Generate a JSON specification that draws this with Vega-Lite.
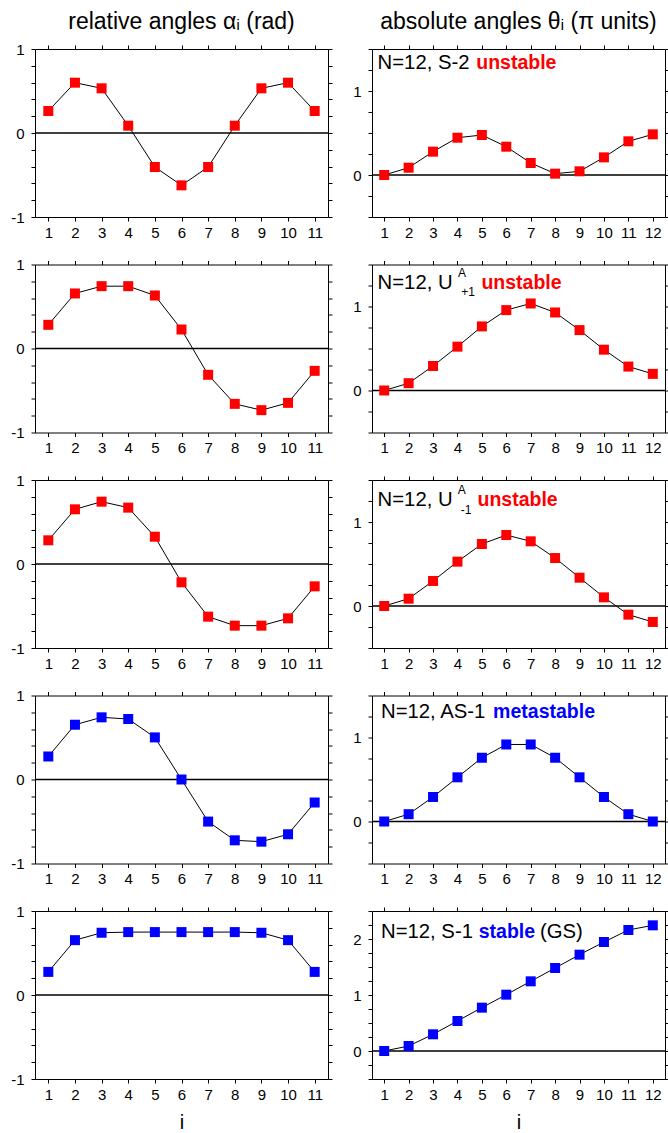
{
  "$schema": "https://vega.github.io/schema/vega-lite/v6.json",
  "padding": {"left": 10, "top": 10, "right": 0, "bottom": 0},
  "background": "white",
  "datasets": {
    "alpha_S2": [{"i":1,"alpha":0.262},{"i":2,"alpha":0.599},{"i":3,"alpha":0.532},{"i":4,"alpha":0.087},{"i":5,"alpha":-0.405},{"i":6,"alpha":-0.623},{"i":7,"alpha":-0.405},{"i":8,"alpha":0.087},{"i":9,"alpha":0.532},{"i":10,"alpha":0.599},{"i":11,"alpha":0.262}],
    "theta_S2": [{"i":1,"theta":0},{"i":2,"theta":0.087},{"i":3,"theta":0.278},{"i":4,"theta":0.444},{"i":5,"theta":0.476},{"i":6,"theta":0.337},{"i":7,"theta":0.143},{"i":8,"theta":0.016},{"i":9,"theta":0.044},{"i":10,"theta":0.21},{"i":11,"theta":0.401},{"i":12,"theta":0.484}],
    "alpha_Up1": [{"i":1,"alpha":0.282},{"i":2,"alpha":0.655},{"i":3,"alpha":0.742},{"i":4,"alpha":0.742},{"i":5,"alpha":0.631},{"i":6,"alpha":0.226},{"i":7,"alpha":-0.313},{"i":8,"alpha":-0.659},{"i":9,"alpha":-0.734},{"i":10,"alpha":-0.647},{"i":11,"alpha":-0.266}],
    "theta_Up1": [{"i":1,"theta":0},{"i":2,"theta":0.087},{"i":3,"theta":0.292},{"i":4,"theta":0.522},{"i":5,"theta":0.763},{"i":6,"theta":0.957},{"i":7,"theta":1.036},{"i":8,"theta":0.929},{"i":9,"theta":0.719},{"i":10,"theta":0.486},{"i":11,"theta":0.285},{"i":12,"theta":0.198}],
    "alpha_Um1": [{"i":1,"alpha":0.282},{"i":2,"alpha":0.651},{"i":3,"alpha":0.742},{"i":4,"alpha":0.671},{"i":5,"alpha":0.325},{"i":6,"alpha":-0.218},{"i":7,"alpha":-0.627},{"i":8,"alpha":-0.734},{"i":9,"alpha":-0.734},{"i":10,"alpha":-0.647},{"i":11,"alpha":-0.266}],
    "theta_Um1": [{"i":1,"theta":0},{"i":2,"theta":0.087},{"i":3,"theta":0.298},{"i":4,"theta":0.528},{"i":5,"theta":0.738},{"i":6,"theta":0.845},{"i":7,"theta":0.77},{"i":8,"theta":0.571},{"i":9,"theta":0.337},{"i":10,"theta":0.103},{"i":11,"theta":-0.103},{"i":12,"theta":-0.19}],
    "alpha_AS1": [{"i":1,"alpha":0.274},{"i":2,"alpha":0.652},{"i":3,"alpha":0.74},{"i":4,"alpha":0.72},{"i":5,"alpha":0.501},{"i":6,"alpha":0},{"i":7,"alpha":-0.501},{"i":8,"alpha":-0.724},{"i":9,"alpha":-0.74},{"i":10,"alpha":-0.652},{"i":11,"alpha":-0.274}],
    "theta_AS1": [{"i":1,"theta":0},{"i":2,"theta":0.087},{"i":3,"theta":0.292},{"i":4,"theta":0.526},{"i":5,"theta":0.759},{"i":6,"theta":0.917},{"i":7,"theta":0.917},{"i":8,"theta":0.759},{"i":9,"theta":0.526},{"i":10,"theta":0.292},{"i":11,"theta":0.087},{"i":12,"theta":0}],
    "alpha_S1": [{"i":1,"alpha":0.275},{"i":2,"alpha":0.653},{"i":3,"alpha":0.741},{"i":4,"alpha":0.749},{"i":5,"alpha":0.749},{"i":6,"alpha":0.749},{"i":7,"alpha":0.749},{"i":8,"alpha":0.749},{"i":9,"alpha":0.741},{"i":10,"alpha":0.653},{"i":11,"alpha":0.275}],
    "theta_S1": [{"i":1,"theta":0},{"i":2,"theta":0.089},{"i":3,"theta":0.298},{"i":4,"theta":0.536},{"i":5,"theta":0.774},{"i":6,"theta":1.006},{"i":7,"theta":1.244},{"i":8,"theta":1.482},{"i":9,"theta":1.72},{"i":10,"theta":1.946},{"i":11,"theta":2.161},{"i":12,"theta":2.244}],
    "one": [{}]
  },
  "columns": 2,
  "spacing": {"row": 47.5, "column": 44},
  "bounds": "flush",
  "align": "all",
  "concat": [
    {
      "width": 293, "height": 168,
      "title": {"text": "relative angles αᵢ (rad)"},
      "layer": [
        {"data": {"name": "one"}, "mark": "rule", "encoding": {"y": {"datum": 0, "type": "quantitative", "axis": null}}},
        {"data": {"name": "alpha_S2"}, "mark": "line", "encoding": {
          "x": {"field": "i", "type": "quantitative", "scale": {"domain": [0.5, 11.5], "nice": false, "zero": false}, "axis": {"orient": "bottom", "values": [1,2,3,4,5,6,7,8,9,10,11], "title": null}},
          "y": {"field": "alpha", "type": "quantitative", "scale": {"domain": [-1, 1], "nice": false}, "axis": {"orient": "left", "values": [-1,-0.8,-0.6,-0.4,-0.2,0,0.2,0.4,0.6,0.8,1], "labelExpr": "datum.value == 0 || abs(datum.value) == 1 ? '' + datum.value : ''", "title": null}}}},
        {"data": {"name": "alpha_S2"}, "mark": {"type": "square", "color": "#ff0000"}, "encoding": {
          "x": {"field": "i", "type": "quantitative", "axis": {"orient": "top", "values": [1,2,3,4,5,6,7,8,9,10,11], "labels": false, "title": null}},
          "y": {"field": "alpha", "type": "quantitative", "axis": {"orient": "right", "values": [-1,-0.8,-0.6,-0.4,-0.2,0,0.2,0.4,0.6,0.8,1], "labels": false, "title": null}}}}
      ],
      "resolve": {"axis": {"x": "independent", "y": "independent"}}
    },
    {
      "width": 293, "height": 168,
      "title": {"text": "absolute angles θᵢ (π units)"},
      "layer": [
        {"data": {"name": "one"}, "mark": "rule", "encoding": {"y": {"datum": 0, "type": "quantitative", "axis": null}}},
        {"data": {"name": "theta_S2"}, "mark": "line", "encoding": {
          "x": {"field": "i", "type": "quantitative", "scale": {"domain": [0.5, 12.5], "nice": false, "zero": false}, "axis": {"orient": "bottom", "values": [1,2,3,4,5,6,7,8,9,10,11,12], "title": null}},
          "y": {"field": "theta", "type": "quantitative", "scale": {"domain": [-0.5, 1.5], "nice": false}, "axis": {"orient": "left", "values": [-0.5,-0.25,0,0.25,0.5,0.75,1,1.25,1.5], "labelExpr": "datum.value % 1 == 0 ? '' + datum.value : ''", "title": null}}}},
        {"data": {"name": "theta_S2"}, "mark": {"type": "square", "color": "#ff0000"}, "encoding": {
          "x": {"field": "i", "type": "quantitative", "axis": {"orient": "top", "values": [1,2,3,4,5,6,7,8,9,10,11,12], "labels": false, "title": null}},
          "y": {"field": "theta", "type": "quantitative", "axis": {"orient": "right", "values": [-0.5,-0.25,0,0.25,0.5,0.75,1,1.25,1.5], "labels": false, "title": null}}}},
        {"data": {"name": "one"}, "mark": {"type": "text", "color": "black"}, "encoding": {"x": {"datum": 0.73, "type": "quantitative", "axis": null}, "y": {"datum": 1.258, "type": "quantitative", "axis": null}, "text": {"value": "N=12, S-2"}}},
        {"data": {"name": "one"}, "mark": {"type": "text", "color": "#ff0000", "fontWeight": "bold", "fontSize": 19.5}, "encoding": {"x": {"datum": 4.77, "type": "quantitative", "axis": null}, "y": {"datum": 1.258, "type": "quantitative", "axis": null}, "text": {"value": "unstable"}}}
      ],
      "resolve": {"axis": {"x": "independent", "y": "independent"}}
    },
    {
      "width": 293, "height": 168,
      "layer": [
        {"data": {"name": "one"}, "mark": "rule", "encoding": {"y": {"datum": 0, "type": "quantitative", "axis": null}}},
        {"data": {"name": "alpha_Up1"}, "mark": "line", "encoding": {
          "x": {"field": "i", "type": "quantitative", "scale": {"domain": [0.5, 11.5], "nice": false, "zero": false}, "axis": {"orient": "bottom", "values": [1,2,3,4,5,6,7,8,9,10,11], "title": null}},
          "y": {"field": "alpha", "type": "quantitative", "scale": {"domain": [-1, 1], "nice": false}, "axis": {"orient": "left", "values": [-1,-0.8,-0.6,-0.4,-0.2,0,0.2,0.4,0.6,0.8,1], "labelExpr": "datum.value == 0 || abs(datum.value) == 1 ? '' + datum.value : ''", "title": null}}}},
        {"data": {"name": "alpha_Up1"}, "mark": {"type": "square", "color": "#ff0000"}, "encoding": {
          "x": {"field": "i", "type": "quantitative", "axis": {"orient": "top", "values": [1,2,3,4,5,6,7,8,9,10,11], "labels": false, "title": null}},
          "y": {"field": "alpha", "type": "quantitative", "axis": {"orient": "right", "values": [-1,-0.8,-0.6,-0.4,-0.2,0,0.2,0.4,0.6,0.8,1], "labels": false, "title": null}}}}
      ],
      "resolve": {"axis": {"x": "independent", "y": "independent"}}
    },
    {
      "width": 293, "height": 168,
      "layer": [
        {"data": {"name": "one"}, "mark": "rule", "encoding": {"y": {"datum": 0, "type": "quantitative", "axis": null}}},
        {"data": {"name": "theta_Up1"}, "mark": "line", "encoding": {
          "x": {"field": "i", "type": "quantitative", "scale": {"domain": [0.5, 12.5], "nice": false, "zero": false}, "axis": {"orient": "bottom", "values": [1,2,3,4,5,6,7,8,9,10,11,12], "title": null}},
          "y": {"field": "theta", "type": "quantitative", "scale": {"domain": [-0.5, 1.5], "nice": false}, "axis": {"orient": "left", "values": [-0.5,-0.25,0,0.25,0.5,0.75,1,1.25,1.5], "labelExpr": "datum.value % 1 == 0 ? '' + datum.value : ''", "title": null}}}},
        {"data": {"name": "theta_Up1"}, "mark": {"type": "square", "color": "#ff0000"}, "encoding": {
          "x": {"field": "i", "type": "quantitative", "axis": {"orient": "top", "values": [1,2,3,4,5,6,7,8,9,10,11,12], "labels": false, "title": null}},
          "y": {"field": "theta", "type": "quantitative", "axis": {"orient": "right", "values": [-0.5,-0.25,0,0.25,0.5,0.75,1,1.25,1.5], "labels": false, "title": null}}}},
        {"data": {"name": "one"}, "mark": {"type": "text", "color": "black"}, "encoding": {"x": {"datum": 0.73, "type": "quantitative", "axis": null}, "y": {"datum": 1.211, "type": "quantitative", "axis": null}, "text": {"value": "N=12, U"}}},
        {"data": {"name": "one"}, "mark": {"type": "text", "color": "black", "fontSize": 12}, "encoding": {"x": {"datum": 4.02, "type": "quantitative", "axis": null}, "y": {"datum": 1.349, "type": "quantitative", "axis": null}, "text": {"value": "A"}}},
        {"data": {"name": "one"}, "mark": {"type": "text", "color": "black", "fontSize": 12}, "encoding": {"x": {"datum": 4.16, "type": "quantitative", "axis": null}, "y": {"datum": 1.123, "type": "quantitative", "axis": null}, "text": {"value": "+1"}}},
        {"data": {"name": "one"}, "mark": {"type": "text", "color": "#ff0000", "fontWeight": "bold", "fontSize": 19.5}, "encoding": {"x": {"datum": 4.98, "type": "quantitative", "axis": null}, "y": {"datum": 1.211, "type": "quantitative", "axis": null}, "text": {"value": "unstable"}}}
      ],
      "resolve": {"axis": {"x": "independent", "y": "independent"}}
    },
    {
      "width": 293, "height": 168,
      "layer": [
        {"data": {"name": "one"}, "mark": "rule", "encoding": {"y": {"datum": 0, "type": "quantitative", "axis": null}}},
        {"data": {"name": "alpha_Um1"}, "mark": "line", "encoding": {
          "x": {"field": "i", "type": "quantitative", "scale": {"domain": [0.5, 11.5], "nice": false, "zero": false}, "axis": {"orient": "bottom", "values": [1,2,3,4,5,6,7,8,9,10,11], "title": null}},
          "y": {"field": "alpha", "type": "quantitative", "scale": {"domain": [-1, 1], "nice": false}, "axis": {"orient": "left", "values": [-1,-0.8,-0.6,-0.4,-0.2,0,0.2,0.4,0.6,0.8,1], "labelExpr": "datum.value == 0 || abs(datum.value) == 1 ? '' + datum.value : ''", "title": null}}}},
        {"data": {"name": "alpha_Um1"}, "mark": {"type": "square", "color": "#ff0000"}, "encoding": {
          "x": {"field": "i", "type": "quantitative", "axis": {"orient": "top", "values": [1,2,3,4,5,6,7,8,9,10,11], "labels": false, "title": null}},
          "y": {"field": "alpha", "type": "quantitative", "axis": {"orient": "right", "values": [-1,-0.8,-0.6,-0.4,-0.2,0,0.2,0.4,0.6,0.8,1], "labels": false, "title": null}}}}
      ],
      "resolve": {"axis": {"x": "independent", "y": "independent"}}
    },
    {
      "width": 293, "height": 168,
      "layer": [
        {"data": {"name": "one"}, "mark": "rule", "encoding": {"y": {"datum": 0, "type": "quantitative", "axis": null}}},
        {"data": {"name": "theta_Um1"}, "mark": "line", "encoding": {
          "x": {"field": "i", "type": "quantitative", "scale": {"domain": [0.5, 12.5], "nice": false, "zero": false}, "axis": {"orient": "bottom", "values": [1,2,3,4,5,6,7,8,9,10,11,12], "title": null}},
          "y": {"field": "theta", "type": "quantitative", "scale": {"domain": [-0.5, 1.5], "nice": false}, "axis": {"orient": "left", "values": [-0.5,-0.25,0,0.25,0.5,0.75,1,1.25,1.5], "labelExpr": "datum.value % 1 == 0 ? '' + datum.value : ''", "title": null}}}},
        {"data": {"name": "theta_Um1"}, "mark": {"type": "square", "color": "#ff0000"}, "encoding": {
          "x": {"field": "i", "type": "quantitative", "axis": {"orient": "top", "values": [1,2,3,4,5,6,7,8,9,10,11,12], "labels": false, "title": null}},
          "y": {"field": "theta", "type": "quantitative", "axis": {"orient": "right", "values": [-0.5,-0.25,0,0.25,0.5,0.75,1,1.25,1.5], "labels": false, "title": null}}}},
        {"data": {"name": "one"}, "mark": {"type": "text", "color": "black"}, "encoding": {"x": {"datum": 0.73, "type": "quantitative", "axis": null}, "y": {"datum": 1.19, "type": "quantitative", "axis": null}, "text": {"value": "N=12, U"}}},
        {"data": {"name": "one"}, "mark": {"type": "text", "color": "black", "fontSize": 12}, "encoding": {"x": {"datum": 4.01, "type": "quantitative", "axis": null}, "y": {"datum": 1.33, "type": "quantitative", "axis": null}, "text": {"value": "A"}}},
        {"data": {"name": "one"}, "mark": {"type": "text", "color": "black", "fontSize": 12}, "encoding": {"x": {"datum": 4.13, "type": "quantitative", "axis": null}, "y": {"datum": 1.092, "type": "quantitative", "axis": null}, "text": {"value": "-1"}}},
        {"data": {"name": "one"}, "mark": {"type": "text", "color": "#ff0000", "fontWeight": "bold", "fontSize": 19.5}, "encoding": {"x": {"datum": 4.82, "type": "quantitative", "axis": null}, "y": {"datum": 1.19, "type": "quantitative", "axis": null}, "text": {"value": "unstable"}}}
      ],
      "resolve": {"axis": {"x": "independent", "y": "independent"}}
    },
    {
      "width": 293, "height": 168,
      "layer": [
        {"data": {"name": "one"}, "mark": "rule", "encoding": {"y": {"datum": 0, "type": "quantitative", "axis": null}}},
        {"data": {"name": "alpha_AS1"}, "mark": "line", "encoding": {
          "x": {"field": "i", "type": "quantitative", "scale": {"domain": [0.5, 11.5], "nice": false, "zero": false}, "axis": {"orient": "bottom", "values": [1,2,3,4,5,6,7,8,9,10,11], "title": null}},
          "y": {"field": "alpha", "type": "quantitative", "scale": {"domain": [-1, 1], "nice": false}, "axis": {"orient": "left", "values": [-1,-0.8,-0.6,-0.4,-0.2,0,0.2,0.4,0.6,0.8,1], "labelExpr": "datum.value == 0 || abs(datum.value) == 1 ? '' + datum.value : ''", "title": null}}}},
        {"data": {"name": "alpha_AS1"}, "mark": {"type": "square", "color": "#0000ff"}, "encoding": {
          "x": {"field": "i", "type": "quantitative", "axis": {"orient": "top", "values": [1,2,3,4,5,6,7,8,9,10,11], "labels": false, "title": null}},
          "y": {"field": "alpha", "type": "quantitative", "axis": {"orient": "right", "values": [-1,-0.8,-0.6,-0.4,-0.2,0,0.2,0.4,0.6,0.8,1], "labels": false, "title": null}}}}
      ],
      "resolve": {"axis": {"x": "independent", "y": "independent"}}
    },
    {
      "width": 293, "height": 168,
      "layer": [
        {"data": {"name": "one"}, "mark": "rule", "encoding": {"y": {"datum": 0, "type": "quantitative", "axis": null}}},
        {"data": {"name": "theta_AS1"}, "mark": "line", "encoding": {
          "x": {"field": "i", "type": "quantitative", "scale": {"domain": [0.5, 12.5], "nice": false, "zero": false}, "axis": {"orient": "bottom", "values": [1,2,3,4,5,6,7,8,9,10,11,12], "title": null}},
          "y": {"field": "theta", "type": "quantitative", "scale": {"domain": [-0.5, 1.5], "nice": false}, "axis": {"orient": "left", "values": [-0.5,-0.25,0,0.25,0.5,0.75,1,1.25,1.5], "labelExpr": "datum.value % 1 == 0 ? '' + datum.value : ''", "title": null}}}},
        {"data": {"name": "theta_AS1"}, "mark": {"type": "square", "color": "#0000ff"}, "encoding": {
          "x": {"field": "i", "type": "quantitative", "axis": {"orient": "top", "values": [1,2,3,4,5,6,7,8,9,10,11,12], "labels": false, "title": null}},
          "y": {"field": "theta", "type": "quantitative", "axis": {"orient": "right", "values": [-0.5,-0.25,0,0.25,0.5,0.75,1,1.25,1.5], "labels": false, "title": null}}}},
        {"data": {"name": "one"}, "mark": {"type": "text", "color": "black"}, "encoding": {"x": {"datum": 0.87, "type": "quantitative", "axis": null}, "y": {"datum": 1.235, "type": "quantitative", "axis": null}, "text": {"value": "N=12, AS-1"}}},
        {"data": {"name": "one"}, "mark": {"type": "text", "color": "#0000ff", "fontWeight": "bold", "fontSize": 19.5}, "encoding": {"x": {"datum": 5.46, "type": "quantitative", "axis": null}, "y": {"datum": 1.235, "type": "quantitative", "axis": null}, "text": {"value": "metastable"}}}
      ],
      "resolve": {"axis": {"x": "independent", "y": "independent"}}
    },
    {
      "width": 293, "height": 168,
      "layer": [
        {"data": {"name": "one"}, "mark": "rule", "encoding": {"y": {"datum": 0, "type": "quantitative", "axis": null}}},
        {"data": {"name": "alpha_S1"}, "mark": "line", "encoding": {
          "x": {"field": "i", "type": "quantitative", "scale": {"domain": [0.5, 11.5], "nice": false, "zero": false}, "axis": {"orient": "bottom", "values": [1,2,3,4,5,6,7,8,9,10,11], "title": "i"}},
          "y": {"field": "alpha", "type": "quantitative", "scale": {"domain": [-1, 1], "nice": false}, "axis": {"orient": "left", "values": [-1,-0.8,-0.6,-0.4,-0.2,0,0.2,0.4,0.6,0.8,1], "labelExpr": "datum.value == 0 || abs(datum.value) == 1 ? '' + datum.value : ''", "title": null}}}},
        {"data": {"name": "alpha_S1"}, "mark": {"type": "square", "color": "#0000ff"}, "encoding": {
          "x": {"field": "i", "type": "quantitative", "axis": {"orient": "top", "values": [1,2,3,4,5,6,7,8,9,10,11], "labels": false, "title": null}},
          "y": {"field": "alpha", "type": "quantitative", "axis": {"orient": "right", "values": [-1,-0.8,-0.6,-0.4,-0.2,0,0.2,0.4,0.6,0.8,1], "labels": false, "title": null}}}}
      ],
      "resolve": {"axis": {"x": "independent", "y": "independent"}}
    },
    {
      "width": 293, "height": 168,
      "layer": [
        {"data": {"name": "one"}, "mark": "rule", "encoding": {"y": {"datum": 0, "type": "quantitative", "axis": null}}},
        {"data": {"name": "theta_S1"}, "mark": "line", "encoding": {
          "x": {"field": "i", "type": "quantitative", "scale": {"domain": [0.5, 12.5], "nice": false, "zero": false}, "axis": {"orient": "bottom", "values": [1,2,3,4,5,6,7,8,9,10,11,12], "title": "i"}},
          "y": {"field": "theta", "type": "quantitative", "scale": {"domain": [-0.5, 2.5], "nice": false}, "axis": {"orient": "left", "values": [-0.5,-0.25,0,0.25,0.5,0.75,1,1.25,1.5,1.75,2,2.25,2.5], "labelExpr": "datum.value % 1 == 0 ? '' + datum.value : ''", "title": null}}}},
        {"data": {"name": "theta_S1"}, "mark": {"type": "square", "color": "#0000ff"}, "encoding": {
          "x": {"field": "i", "type": "quantitative", "axis": {"orient": "top", "values": [1,2,3,4,5,6,7,8,9,10,11,12], "labels": false, "title": null}},
          "y": {"field": "theta", "type": "quantitative", "axis": {"orient": "right", "values": [-0.5,-0.25,0,0.25,0.5,0.75,1,1.25,1.5,1.75,2,2.25,2.5], "labels": false, "title": null}}}},
        {"data": {"name": "one"}, "mark": {"type": "text", "color": "black"}, "encoding": {"x": {"datum": 0.87, "type": "quantitative", "axis": null}, "y": {"datum": 2.0125, "type": "quantitative", "axis": null}, "text": {"value": "N=12, S-1"}}},
        {"data": {"name": "one"}, "mark": {"type": "text", "color": "#0000ff", "fontWeight": "bold", "fontSize": 19.5}, "encoding": {"x": {"datum": 4.87, "type": "quantitative", "axis": null}, "y": {"datum": 2.0125, "type": "quantitative", "axis": null}, "text": {"value": "stable"}}},
        {"data": {"name": "one"}, "mark": {"type": "text", "color": "black"}, "encoding": {"x": {"datum": 7.38, "type": "quantitative", "axis": null}, "y": {"datum": 2.0125, "type": "quantitative", "axis": null}, "text": {"value": "(GS)"}}}
      ],
      "resolve": {"axis": {"x": "independent", "y": "independent"}}
    }
  ],
  "config": {
    "font": "Liberation Sans",
    "view": {"stroke": "black", "strokeWidth": 1},
    "axis": {"domain": false, "grid": false, "tickColor": "black", "tickSize": 4, "tickWidth": 1, "labelColor": "black", "labelFontSize": 15, "labelFont": "Liberation Sans", "labelFlush": false, "labelOverlap": false, "titleFontWeight": "normal", "titleFontSize": 20, "titleColor": "black", "titleFont": "Liberation Sans"},
    "axisBottom": {"labelPadding": 4, "titlePadding": 10},
    "axisLeft": {"labelPadding": 7},
    "title": {"fontSize": 23, "fontWeight": "normal", "color": "black", "anchor": "middle", "font": "Liberation Sans", "offset": 8},
    "square": {"size": 100, "opacity": 1},
    "line": {"color": "black", "strokeWidth": 1},
    "rule": {"color": "black", "strokeWidth": 1.5},
    "text": {"fontSize": 20.3, "align": "left", "baseline": "alphabetic", "font": "Liberation Sans"}
  }
}
